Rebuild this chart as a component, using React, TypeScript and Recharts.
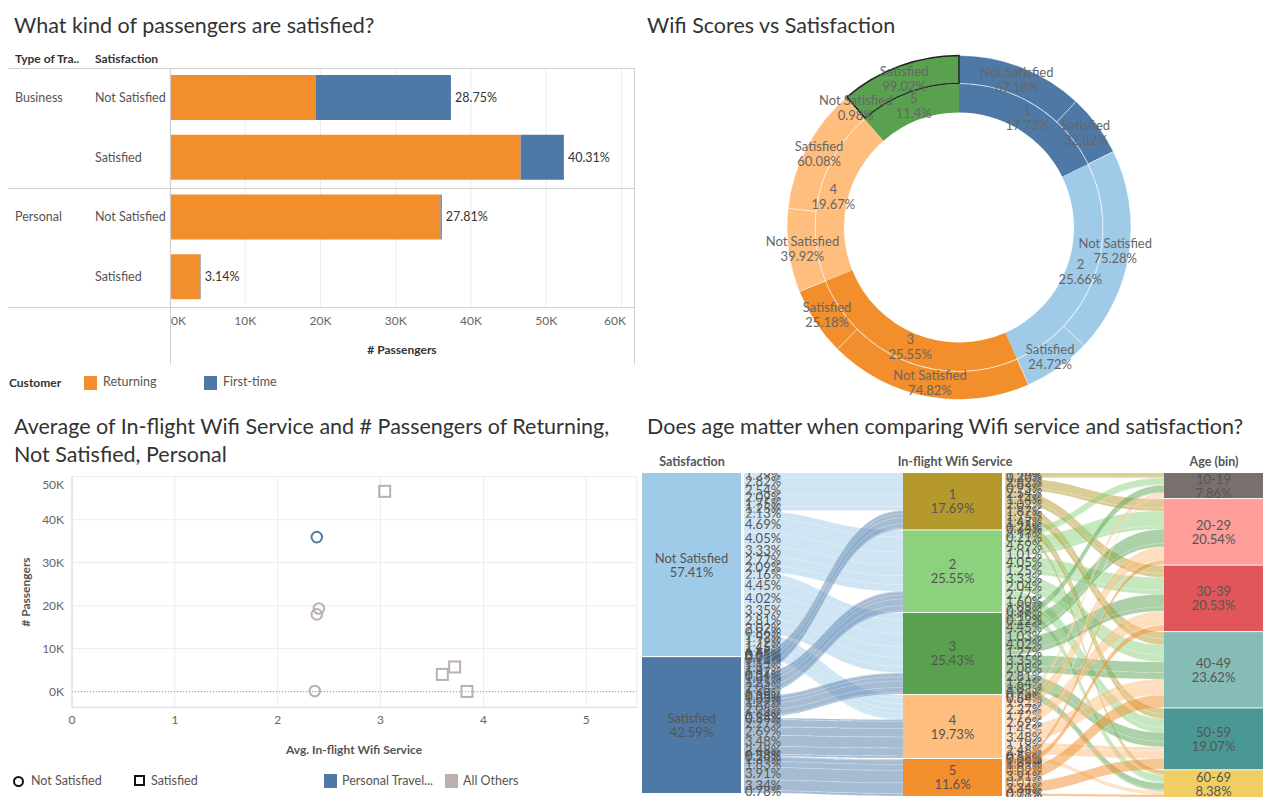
import React from "react";
import {
  BarChart,
  Bar,
  XAxis,
  YAxis,
  CartesianGrid,
  LabelList,
  PieChart,
  Pie,
  Cell,
  ScatterChart,
  Scatter,
  ReferenceLine,
  Sankey,
} from "recharts";

const FONT = "Lato, 'Open Sans', sans-serif";

// --- What kind of passengers are satisfied? ---
const travelTypes = ["Business", "Business", "Personal", "Personal"];
const satisfactionRows = ["Not Satisfied", "Satisfied", "Not Satisfied", "Satisfied"];
const returningCounts = [19350, 46600, 35950, 4020];
const firstTimeCounts = [17990, 5750, 170, 60];
const shareLabels = ["28.75%", "40.31%", "27.81%", "3.14%"];
const passengerTicks = [0, 10000, 20000, 30000, 40000, 50000, 60000];

// --- Wifi Scores vs Satisfaction ---
const wifiScores = ["1", "2", "3", "4", "5"];
const wifiShares = [17.73, 25.66, 25.55, 19.67, 11.4];
const notSatisfiedPct = [67.18, 75.28, 74.82, 39.92, 0.98];
const satisfiedPct = [32.82, 24.72, 25.18, 60.08, 99.02];
const wifiColors = ["#4e79a7", "#a0cbe8", "#f28e2b", "#ffbe7d", "#59a14f"];

// --- Average wifi vs # passengers (same groups as the bars) ---
const wifiAvgReturning = [2.4, 3.04, 2.38, 3.6];
const wifiAvgFirstTime = [2.38, 3.72, 2.36, 3.84];
const wifiTicks = [0, 1, 2, 3, 4, 5];
const scatterYTicks = [0, 10000, 20000, 30000, 40000, 50000];

// --- Sankey: satisfaction -> wifi score -> age bin ---
const satisfactionNames = ["Not Satisfied", "Satisfied"];
const satisfactionShares = ["57.41%", "42.59%"];
const satisfactionColors = ["#a0cbe8", "#4e79a7"];
const wifiNodeShares = ["17.69%", "25.55%", "25.43%", "19.73%", "11.6%"];
const wifiNodeColors = ["#b6992d", "#8cd17d", "#59a14f", "#ffbe7d", "#f28e2b"];
const ageBins = ["10-19", "20-29", "30-39", "40-49", "50-59", "60-69"];
const ageShares = ["7.86%", "20.54%", "20.53%", "23.62%", "19.07%", "8.38%"];
const ageColors = ["#79706e", "#ff9d9a", "#e15759", "#86bcb6", "#499894", "#f1ce63"];
// % of all passengers, rows = wifi score 1..5, cols = age bins
const notSatisfiedFlows = [
  [1.29, 2.82, 2.54, 2.09, 1.75, 1.25],
  [2.13, 4.69, 4.05, 3.33, 2.77, 2.09],
  [2.16, 4.45, 4.02, 3.35, 2.81, 2.02],
  [0.86, 1.92, 1.72, 1.45, 1.19, 0.55],
  [0.01, 0.03, 0.02, 0.02, 0.02, 0.01],
];
const satisfiedFlows = [
  [0.2, 0.93, 1.14, 1.87, 1.47, 0.34],
  [0.21, 1.01, 1.25, 2.04, 1.6, 0.38],
  [0.22, 1.03, 1.27, 2.08, 1.64, 0.38],
  [0.54, 2.27, 2.69, 3.48, 2.48, 0.58],
  [0.24, 1.39, 1.83, 3.91, 3.34, 0.78],
];

const barRows = travelTypes.map((t, i) => ({
  key: `${t} ${satisfactionRows[i]}`,
  returning: returningCounts[i],
  firstTime: firstTimeCounts[i],
  share: shareLabels[i],
}));

const innerRing = wifiScores.map((s, i) => ({ name: s, value: wifiShares[i], label: `${wifiShares[i]}%`, color: wifiColors[i] }));
const outerRing = wifiScores.flatMap((s, i) => [
  { name: "Not Satisfied", value: (wifiShares[i] * notSatisfiedPct[i]) / 100, label: `${notSatisfiedPct[i]}%`, color: wifiColors[i] },
  { name: "Satisfied", value: (wifiShares[i] * satisfiedPct[i]) / 100, label: `${satisfiedPct[i]}%`, color: wifiColors[i] },
]);

const scatterPoints = travelTypes.flatMap((t, i) => [
  { x: wifiAvgReturning[i], y: returningCounts[i], sat: satisfactionRows[i], hi: t === "Personal" && satisfactionRows[i] === "Not Satisfied" },
  { x: wifiAvgFirstTime[i], y: firstTimeCounts[i], sat: satisfactionRows[i], hi: false },
]);
const notSatPoints = scatterPoints.filter((p) => p.sat === "Not Satisfied");
const satPoints = scatterPoints.filter((p) => p.sat === "Satisfied");

const sankeyNodes = [
  ...satisfactionNames.map((n, i) => ({ name: n, share: satisfactionShares[i], color: satisfactionColors[i] })),
  ...wifiScores.map((n, i) => ({ name: n, share: wifiNodeShares[i], color: wifiNodeColors[i] })),
  ...ageBins.map((n, i) => ({ name: n, share: ageShares[i], color: ageColors[i] })),
];
const flowSets = [notSatisfiedFlows, satisfiedFlows];
const sankeyLinks: any[] = [];
flowSets.forEach((rows, s) =>
  rows.forEach((row, w) =>
    row.forEach((v) =>
      sankeyLinks.push({ source: s, target: 2 + w, value: v, color: satisfactionColors[s], label: `${v.toFixed(2)}%` })
    )
  )
);
flowSets.forEach((rows) =>
  rows.forEach((row, w) =>
    row.forEach((v, a) =>
      sankeyLinks.push({ source: 2 + w, target: 7 + a, value: v, color: wifiNodeColors[w], label: `${v.toFixed(2)}%` })
    )
  )
);

function Text({ x, y, size = 12, bold = false, color = "#555", center = false, children }: any) {
  const lh = Math.round(size * 1.3);
  return (
    <div
      style={{
        position: "absolute",
        left: x,
        top: y - lh / 2,
        fontSize: size,
        lineHeight: `${lh}px`,
        fontWeight: bold ? 700 : 400,
        color,
        whiteSpace: "nowrap",
        transform: center ? "translateX(-50%)" : undefined,
      }}
    >
      {children}
    </div>
  );
}

function Rule({ x, y, w = 1, h = 1, color = "#d6d6d6" }: any) {
  return <div style={{ position: "absolute", left: x, top: y, width: w, height: h, background: color }} />;
}

function Swatch({ x, y, color }: any) {
  return <div style={{ position: "absolute", left: x, top: y, width: 13, height: 14, background: color }} />;
}

function RowTick({ y, index }: any) {
  return (
    <g fontFamily={FONT} fontSize={12.5} fill="#555">
      {index % 2 === 0 && (
        <text x={15} y={y} dy={4}>
          {travelTypes[index]}
        </text>
      )}
      <text x={95} y={y} dy={4}>
        {satisfactionRows[index]}
      </text>
    </g>
  );
}

function KTick({ x, y, payload }: any) {
  return (
    <text x={payload.value === 0 ? x + 1 : x} y={y + 10} textAnchor={payload.value === 0 ? "start" : "middle"} fontSize={12} fill="#666" fontFamily={FONT}>
      {`${payload.value / 1000}K`}
    </text>
  );
}

function ScatterYTick({ x, y, payload }: any) {
  const shift = payload.value === 50000 ? 8 : 0;
  return (
    <text x={x} y={y + shift + 4} textAnchor="end" fontSize={12} fill="#666" fontFamily={FONT}>
      {`${payload.value / 1000}K`}
    </text>
  );
}

const RAD = Math.PI / 180;
function ringLabel(data: any[]) {
  return (props: any) => {
    const { cx, cy, midAngle, innerRadius, outerRadius, index } = props;
    const r = (innerRadius + outerRadius) / 2;
    const x = cx + r * Math.cos(-midAngle * RAD);
    const y = cy + r * Math.sin(-midAngle * RAD);
    const d = data[index];
    return (
      <text x={x} y={y} textAnchor="middle" fontSize={13} fill="#666" fontFamily={FONT}>
        <tspan x={x} dy={-3}>
          {d.name}
        </tspan>
        <tspan x={x} dy={15}>
          {d.label}
        </tspan>
      </text>
    );
  };
}

function circleShape(props: any) {
  const { cx, cy, payload } = props;
  return <circle cx={cx} cy={cy} r={5.3} fill="none" stroke={payload.hi ? "#4e79a7" : "#bab0ac"} strokeWidth={2} />;
}
function squareShape(props: any) {
  const { cx, cy, payload } = props;
  return <rect x={cx - 5.5} y={cy - 5.5} width={11} height={11} fill="none" stroke={payload.hi ? "#4e79a7" : "#bab0ac"} strokeWidth={2} />;
}

function FlowNode(props: any) {
  const { x, y, width, height, index } = props;
  const n = sankeyNodes[index];
  const mid = x + (width - 3) / 2;
  return (
    <g>
      <rect x={x} y={y} width={width - 3} height={height} fill={n.color} />
      <text x={mid} y={y + height / 2} textAnchor="middle" fontSize={13} fill="#555" fontFamily={FONT}>
        <tspan x={mid} dy={-2}>
          {n.name}
        </tspan>
        <tspan x={mid} dy={14}>
          {n.share}
        </tspan>
      </text>
    </g>
  );
}

function FlowLink(props: any) {
  const { sourceX, targetX, sourceY, targetY, sourceControlX, targetControlX, linkWidth, index } = props;
  const l = sankeyLinks[index] || props.payload;
  const h = linkWidth / 2;
  const d = `M${sourceX},${sourceY - h} C${sourceControlX},${sourceY - h} ${targetControlX},${targetY - h} ${targetX},${targetY - h} L${targetX},${targetY + h} C${targetControlX},${targetY + h} ${sourceControlX},${sourceY + h} ${sourceX},${sourceY + h} Z`;
  return (
    <g>
      <path d={d} fill={l.color} fillOpacity={0.5} stroke="#fff" strokeOpacity={0.35} strokeWidth={0.5} />
      <text x={sourceX + 1} y={sourceY + 4.5} fontSize={13} fill="#555" fontFamily={FONT}>
        {l.label}
      </text>
    </g>
  );
}

export default function App() {
  return (
    <div style={{ position: "absolute", left: 0, top: 0, width: 1275, height: 805, background: "#fff", fontFamily: FONT, overflow: "hidden" }}>
      {/* ---------- top left ---------- */}
      <Text x={14} y={25} size={21.5} color="#333">
        What kind of passengers are satisfied?
      </Text>
      <Text x={15} y={59} size={12} bold color="#333">
        Type of Tra..
      </Text>
      <Text x={95} y={59} size={12} bold color="#333">
        Satisfaction
      </Text>
      <div style={{ position: "absolute", left: 0, top: 0 }}>
        <BarChart width={635} height={365} data={barRows} layout="vertical" margin={{ top: 68, right: 0, bottom: 0, left: 0 }}>
          <CartesianGrid horizontal={false} stroke="#ececec" />
          <XAxis type="number" domain={[0, 61800]} ticks={passengerTicks} axisLine={false} tickLine={false} height={58} tick={<KTick />} />
          <YAxis type="category" dataKey="key" width={170} axisLine={false} tickLine={false} tick={<RowTick />} />
          <Bar dataKey="returning" stackId="a" fill="#f28e2b" barSize={45} isAnimationActive={false} />
          <Bar dataKey="firstTime" stackId="a" fill="#4e79a7" barSize={45} isAnimationActive={false}>
            <LabelList dataKey="share" position="right" offset={4} fill="#333" fontSize={12.5} fontFamily={FONT} />
          </Bar>
        </BarChart>
      </div>
      <Rule x={8} y={68} w={627} color="#d0d0d0" />
      <Rule x={8} y={188} w={627} color="#d0d0d0" />
      <Rule x={8} y={307} w={627} color="#d0d0d0" />
      <Rule x={170} y={68} h={297} color="#d0d0d0" />
      <Rule x={634} y={68} h={297} color="#d0d0d0" />
      <Text x={402} y={350} size={12} bold color="#333" center>
        # Passengers
      </Text>
      <Text x={9} y={383} size={12} bold color="#333">
        Customer
      </Text>
      <Swatch x={84} y={376} color="#f28e2b" />
      <Text x={103} y={382} size={12.5}>
        Returning
      </Text>
      <Swatch x={204} y={376} color="#4e79a7" />
      <Text x={223} y={382} size={12.5}>
        First-time
      </Text>

      {/* ---------- top right ---------- */}
      <Text x={647} y={25} size={21.5} color="#333">
        Wifi Scores vs Satisfaction
      </Text>
      <div style={{ position: "absolute", left: 640, top: 0 }}>
        <PieChart width={635} height={400}>
          <Pie
            data={outerRing}
            dataKey="value"
            cx={314}
            cy={222.5}
            innerRadius={144}
            outerRadius={172}
            startAngle={90}
            endAngle={-270}
            stroke="rgba(255,255,255,0.45)"
            strokeWidth={1}
            label={ringLabel(outerRing)}
            labelLine={false}
            isAnimationActive={false}
          >
            {outerRing.map((d, i) => (
              <Cell key={i} fill={d.color} stroke={i === outerRing.length - 1 ? "#222" : "rgba(255,255,255,0.45)"} strokeWidth={i === outerRing.length - 1 ? 1.5 : 1} />
            ))}
          </Pie>
          <Pie
            data={innerRing}
            dataKey="value"
            cx={314}
            cy={222.5}
            innerRadius={115}
            outerRadius={143.5}
            startAngle={90}
            endAngle={-270}
            stroke="none"
            label={ringLabel(innerRing)}
            labelLine={false}
            isAnimationActive={false}
          >
            {innerRing.map((d, i) => (
              <Cell key={i} fill={d.color} />
            ))}
          </Pie>
        </PieChart>
      </div>

      {/* ---------- bottom left ---------- */}
      <Text x={14} y={426} size={21.5} color="#333">
        Average of In-flight Wifi Service and # Passengers of Returning,
      </Text>
      <Text x={14} y={454} size={21.5} color="#333">
        Not Satisfied, Personal
      </Text>
      <div style={{ position: "absolute", left: 0, top: 400 }}>
        <ScatterChart width={640} height={370} margin={{ top: 76.7, right: 3.3, bottom: 4.7, left: 0 }}>
          <CartesianGrid stroke="#ececec" />
          <XAxis
            type="number"
            dataKey="x"
            domain={[0, 5.49]}
            ticks={wifiTicks}
            allowDataOverflow
            axisLine={{ stroke: "#dcdcdc" }}
            tickLine={false}
            height={58}
            tick={{ fontSize: 12, fill: "#666", fontFamily: FONT }}
          />
          <YAxis
            type="number"
            dataKey="y"
            domain={[-3630, 50000]}
            ticks={scatterYTicks}
            allowDataOverflow
            axisLine={{ stroke: "#dcdcdc" }}
            tickLine={false}
            width={72}
            tick={<ScatterYTick />}
          />
          <ReferenceLine y={0} stroke="#9a9a9a" strokeDasharray="1 2" />
          <Scatter data={notSatPoints} shape={circleShape} isAnimationActive={false} />
          <Scatter data={satPoints} shape={squareShape} isAnimationActive={false} />
        </ScatterChart>
      </div>
      <Text x={354} y={750} size={12} bold color="#555" center>
        Avg. In-flight Wifi Service
      </Text>
      <div
        style={{
          position: "absolute",
          left: 25,
          top: 592,
          transform: "translate(-50%, -50%) rotate(-90deg)",
          fontSize: 12,
          fontWeight: 700,
          color: "#555",
          whiteSpace: "nowrap",
        }}
      >
        # Passengers
      </div>
      <div style={{ position: "absolute", left: 13, top: 776, width: 7, height: 7, border: "2px solid #111", borderRadius: "50%" }} />
      <Text x={31} y={781} size={12.5}>
        Not Satisfied
      </Text>
      <div style={{ position: "absolute", left: 134, top: 775, width: 7, height: 7, border: "2px solid #111" }} />
      <Text x={151} y={781} size={12.5}>
        Satisfied
      </Text>
      <Swatch x={324} y={774} color="#4e79a7" />
      <Text x={342} y={781} size={12.5}>
        Personal Travel...
      </Text>
      <Swatch x={445} y={774} color="#bab0ac" />
      <Text x={463} y={781} size={12.5}>
        All Others
      </Text>

      {/* ---------- bottom right ---------- */}
      <Text x={647} y={426} size={21.5} color="#333">
        Does age matter when comparing Wifi service and satisfaction?
      </Text>
      <Text x={692} y={462} size={12.5} bold color="#555" center>
        Satisfaction
      </Text>
      <Text x={955} y={462} size={12.5} bold color="#555" center>
        In-flight Wifi Service
      </Text>
      <Text x={1214} y={462} size={12.5} bold color="#555" center>
        Age (bin)
      </Text>
      <div style={{ position: "absolute", left: 642, top: 473 }}>
        <Sankey
          width={624}
          height={324}
          data={{ nodes: sankeyNodes, links: sankeyLinks }}
          nodeWidth={102}
          nodePadding={1}
          iterations={0}
          sort={false}
          linkCurvature={0.5}
          margin={{ top: 0, right: 0, bottom: 0, left: 0 }}
          node={<FlowNode />}
          link={<FlowLink />}
        />
      </div>
    </div>
  );
}
